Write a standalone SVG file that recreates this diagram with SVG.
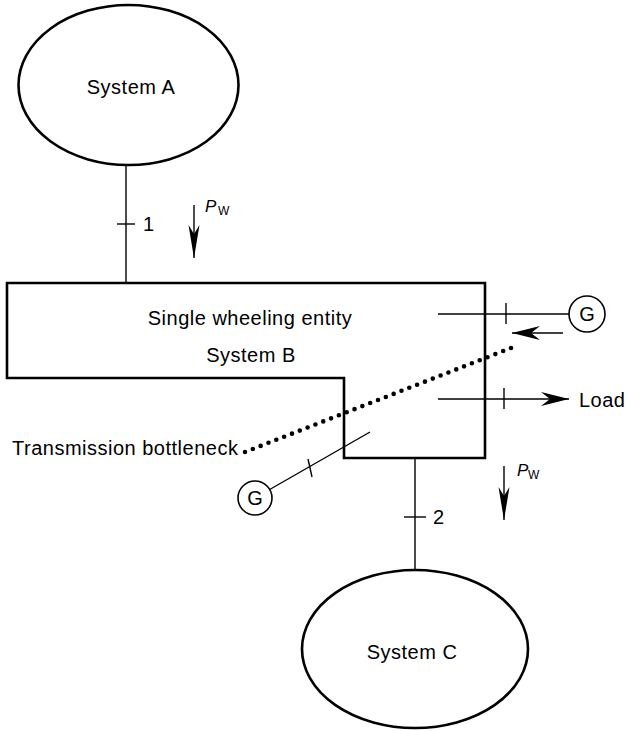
<svg xmlns="http://www.w3.org/2000/svg" width="628" height="731" viewBox="0 0 628 731">
<style>
text{font-family:"Liberation Sans",Arial,Helvetica,sans-serif;fill:#000;}
.lbl{font-size:20px;letter-spacing:0.5px;}
.thick{fill:none;stroke:#000;stroke-width:2.6;}
.thin{fill:none;stroke:#000;stroke-width:1.4;}
.gc{fill:#fff;stroke:#000;stroke-width:1.6;}
.dots{fill:none;stroke:#000;stroke-width:4.6;stroke-linecap:round;stroke-dasharray:0 8.4;}
</style>
<defs>
<marker id="ah" markerUnits="userSpaceOnUse" markerWidth="34" markerHeight="16" viewBox="-30 -8 32 16" refX="0" refY="0" orient="auto">
<path d="M0,0 L-28,-7 L-19,0 L-28,7 Z" fill="#000"/>
</marker>
<marker id="ahs" markerUnits="userSpaceOnUse" markerWidth="36" markerHeight="14" viewBox="-34 -7 36 14" refX="0" refY="0" orient="auto">
<path d="M0,0 L-33,-5.5 L-24,0 L-33,5.5 Z" fill="#000"/>
</marker>
</defs>

<g id="connectors">
<line class="thin" x1="126" y1="165" x2="126" y2="283"/>
<line class="thin" x1="117" y1="224" x2="135" y2="224"/>
<line class="thin" x1="415" y1="458" x2="415" y2="570"/>
<line class="thin" x1="404" y1="517" x2="426" y2="517"/>
<line class="thin" x1="438" y1="314" x2="569" y2="314"/>
<line class="thin" x1="506" y1="303" x2="506" y2="324"/>
<line class="thin" x1="438" y1="399" x2="569" y2="399" marker-end="url(#ah)"/>
<line class="thin" x1="504" y1="388" x2="504" y2="409"/>
<line class="thin" x1="563" y1="333" x2="512" y2="333" marker-end="url(#ah)"/>
<line class="thin" x1="269.7" y1="489.5" x2="370" y2="432"/>
<line class="thin" x1="308" y1="459" x2="312" y2="477"/>
<line class="thin" x1="194" y1="205" x2="194" y2="258" marker-end="url(#ahs)"/>
<line class="thin" x1="504" y1="466" x2="504" y2="520" marker-end="url(#ahs)"/>
<line class="dots" x1="511" y1="348" x2="245" y2="452"/>
</g>

<g id="systemA">
<ellipse class="thick" cx="128.5" cy="85" rx="110" ry="80"/>
<text class="lbl" x="131" y="94" text-anchor="middle">System A</text>
</g>

<g id="systemB">
<path class="thick" d="M7,283 L485,283 L485,458 L344,458 L344,378 L7,378 Z"/>
<text class="lbl" x="250" y="325" text-anchor="middle">Single wheeling entity</text>
<text class="lbl" x="251" y="362" text-anchor="middle">System B</text>
</g>

<g id="systemC">
<ellipse class="thick" cx="415" cy="649" rx="113" ry="79"/>
<text class="lbl" x="412" y="659" text-anchor="middle">System C</text>
</g>

<g id="genTop">
<circle class="gc" cx="587" cy="314" r="18"/>
<text x="587" y="321" font-size="20" text-anchor="middle">G</text>
</g>

<g id="genBottom">
<circle class="gc" cx="255" cy="498" r="17"/>
<text x="255" y="505" font-size="20" text-anchor="middle">G</text>
</g>

<g id="labels">
<text class="lbl" x="143" y="231">1</text>
<text class="lbl" x="433" y="524">2</text>
<text class="lbl" x="579" y="407">Load</text>
<text class="lbl" x="12" y="455">Transmission bottleneck</text>
<text x="205" y="212" font-size="17" font-style="italic">P</text>
<text x="218" y="215" font-size="12">W</text>
<text x="517" y="476" font-size="17" font-style="italic">P</text>
<text x="528" y="479" font-size="12">W</text>
</g>
</svg>
